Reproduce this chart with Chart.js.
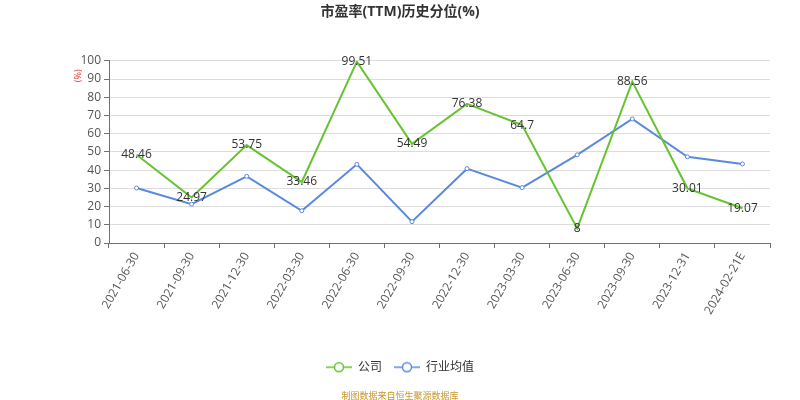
<!DOCTYPE html>
<html>
<head>
<meta charset="utf-8">
<script src="https://cdn.jsdelivr.net/npm/chart.js@4/dist/chart.umd.min.js"></script>
<style>
  html, body { margin: 0; padding: 0; background: #fff; }
  #wrap { width: 800px; height: 400px; }
</style>
</head>
<body>
<div id="wrap"><canvas id="c"></canvas></div>
<script>
const categories = ['2021-06-30','2021-09-30','2021-12-30','2022-03-30','2022-06-30','2022-09-30','2022-12-30','2023-03-30','2023-06-30','2023-09-30','2023-12-31','2024-02-21E'];
const companyValues = [48.46, 24.97, 53.75, 33.46, 99.51, 54.49, 76.38, 64.7, 8, 88.56, 30.01, 19.07];
const industryValues = [30.2, 21.3, 36.6, 17.7, 43.2, 11.7, 40.8, 30.4, 48.4, 68.1, 47.3, 43.4];
const yTicks = [0, 10, 20, 30, 40, 50, 60, 70, 80, 90, 100];

const GREEN = '#64c32f';
const BLUE = '#5a89df';
const FONT = '"Open Sans", "Noto Sans CJK SC", sans-serif';

// legend marker: short line with a hollow circle
function legendIcon(color) {
    const cv = document.createElement('canvas');
    cv.width = 26; cv.height = 12;
    const ctx = cv.getContext('2d');
    ctx.strokeStyle = color;
    ctx.lineWidth = 1.5;
    ctx.beginPath(); ctx.moveTo(0, 6); ctx.lineTo(26, 6); ctx.stroke();
    ctx.fillStyle = '#fff';
    ctx.beginPath(); ctx.arc(13, 6, 4.5, 0, Math.PI * 2); ctx.fill(); ctx.stroke();
    return cv;
}

// data labels on company points
const valueLabels = {
    id: 'valueLabels',
    afterDatasetsDraw(chart) {
        const ctx = chart.ctx;
        const meta = chart.getDatasetMeta(0);
        ctx.save();
        ctx.font = '12px ' + FONT;
        ctx.fillStyle = '#333';
        ctx.textAlign = 'center';
        ctx.textBaseline = 'middle';
        meta.data.forEach((pt, i) => {
            ctx.fillText(String(companyValues[i]), pt.x, pt.y);
        });
        ctx.restore();
    }
};

// red unit label left of the y axis
const unitLabel = {
    id: 'unitLabel',
    afterDraw(chart) {
        const ctx = chart.ctx;
        const y = chart.scales.y;
        ctx.save();
        ctx.font = '9px ' + FONT;
        ctx.fillStyle = '#e03030';
        ctx.textAlign = 'center';
        ctx.textBaseline = 'middle';
        ctx.translate(y.right - 31, chart.chartArea.top + 15);
        ctx.rotate(-Math.PI / 2);
        ctx.fillText('(%)', 0, 0);
        ctx.restore();
    }
};

new Chart(document.getElementById('c'), {
    type: 'line',
    data: {
        labels: categories,
        datasets: [{
            label: '公司',
            data: companyValues,
            borderColor: GREEN,
            backgroundColor: '#fff',
            borderWidth: 2,
            pointRadius: 0,
            pointHoverRadius: 0,
            tension: 0
        }, {
            label: '行业均值',
            data: industryValues,
            borderColor: BLUE,
            backgroundColor: '#fff',
            borderWidth: 2,
            pointRadius: 2,
            pointBorderWidth: 1,
            tension: 0
        }]
    },
    options: {
        responsive: true,
        maintainAspectRatio: false,
        animation: false,
        layout: { padding: { left: 30, right: 30, top: 0, bottom: 0 } },
        plugins: {
            title: {
                display: true,
                text: '市盈率(TTM)历史分位(%)',
                color: '#333',
                font: { family: FONT, size: 14, weight: 'bold' },
                padding: { top: 4, bottom: 40 }
            },
            legend: {
                position: 'bottom',
                labels: {
                    usePointStyle: true,
                    pointStyleWidth: 26,
                    boxHeight: 12,
                    color: '#333',
                    font: { family: FONT, size: 12 },
                    padding: 12,
                    generateLabels(chart) {
                        return chart.data.datasets.map((ds, i) => ({
                            text: ds.label,
                            datasetIndex: i,
                            pointStyle: legendIcon(ds.borderColor),
                            fontColor: '#333',
                            lineWidth: 0,
                            strokeStyle: ds.borderColor,
                            fillStyle: '#fff'
                        }));
                    }
                }
            },
            subtitle: {
                display: true,
                position: 'bottom',
                text: '制图数据来自恒生聚源数据库',
                color: '#c8962a',
                font: { family: FONT, size: 9 },
                padding: { top: 8, bottom: -2 }
            },
            tooltip: { enabled: false }
        },
        scales: {
            x: {
                offset: true,
                afterFit(scale) { scale.height += 30; },
                grid: {
                    display: true,
                    drawOnChartArea: false,
                    drawTicks: true,
                    offset: true,
                    tickLength: 5,
                    color: '#6e7079'
                },
                border: { color: '#6e7079', width: 1 },
                ticks: {
                    color: '#555',
                    font: { family: FONT, size: 12 },
                    maxRotation: 60,
                    minRotation: 60,
                    autoSkip: false,
                    padding: 2
                }
            },
            y: {
                min: 0,
                max: 100,
                afterBuildTicks(scale) { scale.ticks = yTicks.map(v => ({ value: v })); },
                afterFit(scale) { scale.width = 79; },
                grid: {
                    color: '#dcdcdc',
                    drawTicks: true,
                    tickLength: 5,
                    tickColor: '#6e7079'
                },
                border: { color: '#6e7079', width: 1 },
                ticks: {
                    color: '#555',
                    font: { family: FONT, size: 12 },
                    padding: 3
                }
            }
        }
    },
    plugins: [valueLabels, unitLabel]
});
</script>
</body>
</html>
